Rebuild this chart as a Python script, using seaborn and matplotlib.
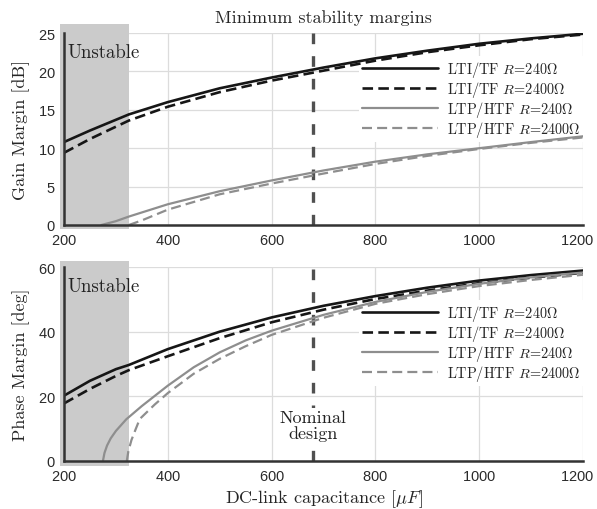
import matplotlib
matplotlib.use("Agg")
import matplotlib.pyplot as plt
import matplotlib.transforms as mtransforms
from matplotlib.patches import Rectangle
from matplotlib.lines import Line2D
from matplotlib.ticker import MultipleLocator
import pandas as pd
import seaborn as sns

# ---------------- data ----------------
# DC-link capacitance grid [uF]
cap = [200, 250, 300, 325, 400, 500, 600, 700, 800, 900, 1000, 1100, 1200]
cap_ticks = [200, 400, 600, 800, 1000, 1200]

# Gain margin [dB]
gm_lti_240 = [10.8, 12.3, 13.7, 14.4, 16.0, 17.8, 19.2, 20.5, 21.7, 22.7, 23.6, 24.3, 24.9]
gm_lti_2400 = [9.4, 11.2, 12.8, 13.6, 15.4, 17.3, 18.8, 20.1, 21.4, 22.5, 23.4, 24.2, 24.8]
cap_gm_ltp_240 = [272, 300, 325, 400, 500, 600, 700, 800, 900, 1000, 1100, 1200]
gm_ltp_240 = [0.0, 0.5, 1.1, 2.7, 4.4, 5.8, 7.1, 8.25, 9.2, 10.0, 10.8, 11.55]
cap_gm_ltp_2400 = [325, 350, 400, 500, 600, 700, 800, 900, 1000, 1100, 1200]
gm_ltp_2400 = [0.0, 0.6, 2.0, 4.0, 5.4, 6.7, 7.95, 9.0, 9.9, 10.7, 11.4]

# Phase margin [deg]
pm_lti_240 = [20.2, 24.8, 28.4, 29.7, 34.6, 40.0, 44.4, 48.0, 51.0, 53.6, 55.8, 57.5, 58.9]
pm_lti_2400 = [17.8, 22.3, 26.3, 28.1, 32.4, 38.0, 42.9, 46.8, 50.1, 52.7, 55.0, 56.7, 58.2]
cap_pm_ltp_240 = [275, 278, 283, 290, 300, 320, 350, 400, 450, 500, 550, 600, 700, 800, 900, 1000, 1100, 1200]
pm_ltp_240 = [0.0, 2.5, 4.8, 7.0, 9.3, 12.9, 17.0, 23.3, 29.0, 33.6, 37.3, 40.3, 45.2, 49.2, 52.3, 54.8, 56.8, 58.3]
cap_pm_ltp_2400 = [321, 324, 330, 338, 346, 375, 400, 450, 500, 550, 600, 700, 800, 900, 1000, 1100, 1200]
pm_ltp_2400 = [0.0, 3.0, 6.5, 9.8, 13.0, 17.5, 21.0, 27.0, 31.6, 35.5, 39.0, 44.3, 48.6, 51.6, 54.1, 56.0, 57.6]

unstable_limit = 325
nominal_cap = 680

labels = [r"LTI/TF $R$=240$\Omega$", r"LTI/TF $R$=2400$\Omega$",
          r"LTP/HTF $R$=240$\Omega$", r"LTP/HTF $R$=2400$\Omega$"]

# ---------------- style ----------------
sns.set_style("white")
plt.rcParams["font.family"] = ["cmr10", "DejaVu Serif"]
plt.rcParams["mathtext.fontset"] = "cm"
plt.rcParams["axes.formatter.use_mathtext"] = True

BLACK = "#161616"
GRAY = "#8e8e8e"
SPINE = "#333333"
SHADE = "#cbcbcb"
TICKFONT = "Liberation Sans"

fig = plt.figure(figsize=(5.97, 5.10), dpi=100)
ax1 = fig.add_axes([64 / 597, 1 - 226 / 510, 519 / 597, 192 / 510])
ax2 = fig.add_axes([64 / 597, 1 - 462 / 510, 519 / 597, 194 / 510])

# (colour, line width, dash pattern)
styles = [
    (BLACK, 1.9, None),
    (BLACK, 1.9, (4, 2)),
    (GRAY, 1.6, None),
    (GRAY, 1.6, (4.5, 2.3)),
]


def draw_series(ax, xs, ys, color, lw, dashes):
    df = pd.DataFrame({"c": xs, "v": ys})
    sns.lineplot(data=df, x="c", y="v", ax=ax, sort=False, estimator=None,
                 color=color, lw=lw, zorder=4)
    ln = ax.lines[-1]
    if dashes is not None:
        ln.set_dashes(dashes)


def format_axes(ax, ymax, ystep, ylabel, shade_top, shade_bottom, leg_y):
    ax.set_xlim(200, 1200)
    ax.set_ylim(0, ymax)
    ax.set_xticks(cap_ticks)
    ax.xaxis.set_minor_locator(MultipleLocator(50))
    ax.yaxis.set_major_locator(MultipleLocator(ystep))
    ax.grid(True, which="major", color="#dcdcdc", lw=0.9, zorder=0)
    ax.set_axisbelow(True)
    for s in ("top", "right"):
        ax.spines[s].set_visible(False)
    for s in ("left", "bottom"):
        ax.spines[s].set_color(SPINE)
        ax.spines[s].set_linewidth(1.8)
        ax.spines[s].set_zorder(5)
    ax.tick_params(axis="both", which="major", direction="in", length=5,
                   width=1.2, color=SPINE, labelsize=10.5, pad=6)
    ax.tick_params(axis="x", which="minor", direction="in", length=3,
                   width=1.0, color=SPINE)
    ax.tick_params(axis="y", which="minor", left=False)
    for lab in ax.get_xticklabels() + ax.get_yticklabels():
        lab.set_fontfamily(TICKFONT)
        lab.set_color("#2a2a2a")
    ax.set_ylabel(ylabel, fontsize=13, labelpad=6)
    ax.set_xlabel("")
    trans = mtransforms.blended_transform_factory(ax.transData, ax.transAxes)
    rect = Rectangle((192, shade_bottom), unstable_limit - 192, shade_top - shade_bottom,
                     transform=trans, facecolor=SHADE, edgecolor="none",
                     clip_on=False, zorder=1)
    ax.add_patch(rect)
    ax.text(206, 0.95, "Unstable", transform=trans,
            fontsize=13.5, va="top", ha="left", color="#222222", zorder=6)
    ax.axvline(nominal_cap, color="#505050", lw=2.4, dashes=(3.2, 3.6), zorder=3)
    handles = []
    for c, lw, d in styles:
        h = Line2D([0], [0], color=c, lw=lw)
        if d is not None:
            h.set_dashes(d)
        handles.append(h)
    leg = ax.legend(handles, labels, loc="upper right", bbox_to_anchor=(1.0, leg_y),
                    frameon=True, framealpha=1.0, edgecolor="none", facecolor="white",
                    fontsize=10.3, handlelength=5.3, handletextpad=0.6,
                    labelspacing=0.0, borderpad=0.2, borderaxespad=0.0,
                    fancybox=False)
    leg.set_zorder(3.5)


# Gain margin panel
gm_sets = [(cap, gm_lti_240), (cap, gm_lti_2400),
           (cap_gm_ltp_240, gm_ltp_240), (cap_gm_ltp_2400, gm_ltp_2400)]
for (xs, ys), (c, lw, d) in zip(gm_sets, styles):
    draw_series(ax1, xs, ys, c, lw, d)
format_axes(ax1, 25, 5, "Gain Margin [dB]", 1.047, -0.02, 0.88)
ax1.set_title("Minimum stability margins", fontsize=13, pad=8)

# Phase margin panel
pm_sets = [(cap, pm_lti_240), (cap, pm_lti_2400),
           (cap_pm_ltp_240, pm_ltp_240), (cap_pm_ltp_2400, pm_ltp_2400)]
for (xs, ys), (c, lw, d) in zip(pm_sets, styles):
    draw_series(ax2, xs, ys, c, lw, d)
format_axes(ax2, 60, 20, "Phase Margin [deg]", 1.033, -0.024, 0.83)
ax2.set_xlabel(r"DC-link capacitance $[\mu F]$", fontsize=13, labelpad=3)
ax2.text(nominal_cap, 11, "Nominal\ndesign", ha="center", va="center",
         fontsize=13, color="#222222", linespacing=1.0, zorder=6,
         bbox=dict(facecolor="white", edgecolor="none", pad=1.5))

# pull the rightmost tick label slightly inward so it stays inside the figure
fig.canvas.draw()
for ax in (ax1, ax2):
    for tick in ax.xaxis.get_major_ticks():
        if abs(tick.get_loc() - 1200) < 1e-6:
            lab = tick.label1
            lab.set_transform(lab.get_transform()
                              + mtransforms.ScaledTranslation(-0.06, 0, fig.dpi_scale_trans))

fig.savefig("out.png", dpi=100)
